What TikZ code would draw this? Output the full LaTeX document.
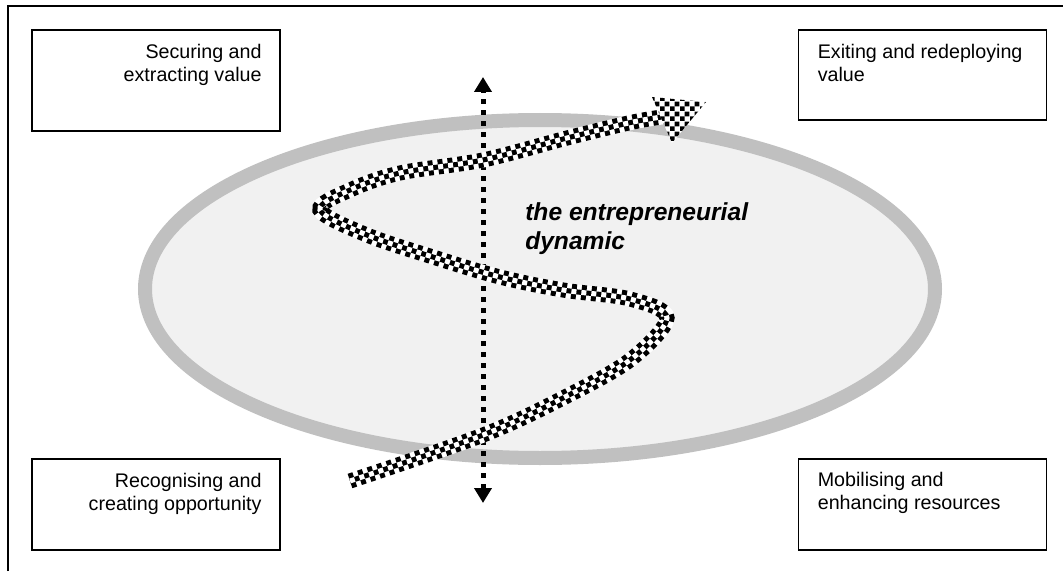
\documentclass[tikz,border=0pt]{standalone}
\usepackage{fontspec}
\setmainfont{Liberation Sans}
\usetikzlibrary{positioning,arrows.meta,patterns.meta}

\definecolor{ringgray}{RGB}{192,192,192}
\definecolor{innergray}{RGB}{241,241,241}

\newcommand{\dynpath}{plot [smooth, tension=0.55] coordinates { (8.75,2.25) (12.075,3.4) (14.075,4.325) (15.75,5.275) (16.675,6.325) (15.75,6.8) (14.075,7.025) (12.5,7.35) (10.825,7.85) (9.175,8.4) (8.0,9.025) (8.75,9.525) (10.0,9.95) (12.075,10.275) (14.175,10.825) (15.825,11.225) (16.62,11.36) }}

\tikzdeclarepattern{
	name=checks,
	type=uncolored,
	bounding box={(0pt,0pt) and (7.12pt,7.12pt)},
	tile size={(7.12pt,7.12pt)},
	code={
		\fill (0pt,0pt) rectangle (3.56pt,3.56pt);
		\fill (3.56pt,3.56pt) rectangle (7.12pt,7.12pt);
	}
}

\tikzset{
	stagebox/.style={draw, line width=1.2pt, minimum width=6.2cm, inner sep=0pt},
	stagetext/.style={inner sep=0pt, font=\fontsize{14}{16.4}\selectfont},
	dotarrow/.style={line width=3.56pt, dash pattern=on 3.56pt off 4.27pt, {Triangle[length=0.375cm,width=0.425cm]}-{Triangle[length=0.375cm,width=0.425cm]}}
}

\begin{document}
\begin{tikzpicture}
			\useasboundingbox (0,0) rectangle (26.575,14.275);
			\draw[line width=1.4pt] (0.195,0) -- (0.195,14.12) -- (26.575,14.12);
			\draw[ringgray, line width=0.35cm, fill=innergray] (13.5,7.05) ellipse (9.875cm and 4.225cm);
			\node[stagebox, minimum height=2.525cm] (secure) at (3.9,12.2625) {};
			\node[stagebox, minimum height=2.25cm] (exit) at (23.06,12.4) {};
			\node[stagebox, minimum height=2.275cm] (recog) at (3.9,1.6625) {};
			\node[stagebox, minimum height=2.275cm] (mobil) at (23.06,1.6625) {};
			\node[stagetext, align=right, below left=0.36cm and 0.475cm of secure.north east] (securetext) {Securing and\\extracting value};
			\node[stagetext, align=left, below right=0.36cm and 0.5cm of exit.north west] (exittext) {Exiting and redeploying\\value};
			\node[stagetext, align=right, below left=0.38cm and 0.475cm of recog.north east] (recogtext) {Recognising and\\creating opportunity};
			\node[stagetext, align=left, below right=0.34cm and 0.5cm of mobil.north west] (mobiltext) {Mobilising and\\enhancing resources};
			\coordinate (top) at (12.075,12.35);
			\coordinate (bottom) at (12.075,1.7);
			\draw[dotarrow] (bottom) -- (top);
			\draw[white, line width=10.7pt] \dynpath;
			\draw[black, line width=10.7pt, dash pattern=on 3.56pt off 3.56pt] \dynpath;
			\draw[black, line width=3.57pt] \dynpath;
			\draw[white, line width=3.57pt, dash pattern=on 3.56pt off 3.56pt] \dynpath;
			\fill[white] (16.3,11.85) -- (17.65,11.725) -- (16.8,10.7) -- cycle;
			\fill[pattern=checks] (16.3,11.85) -- (17.65,11.725) -- (16.8,10.7) -- cycle;
			\node[anchor=north west, align=left, inner sep=0pt, font=\fontsize{17.5}{20.5}\selectfont\bfseries\itshape] (dyn) at (13.125,9.22) {the entrepreneurial\\dynamic};
		\end{tikzpicture}
\end{document}
